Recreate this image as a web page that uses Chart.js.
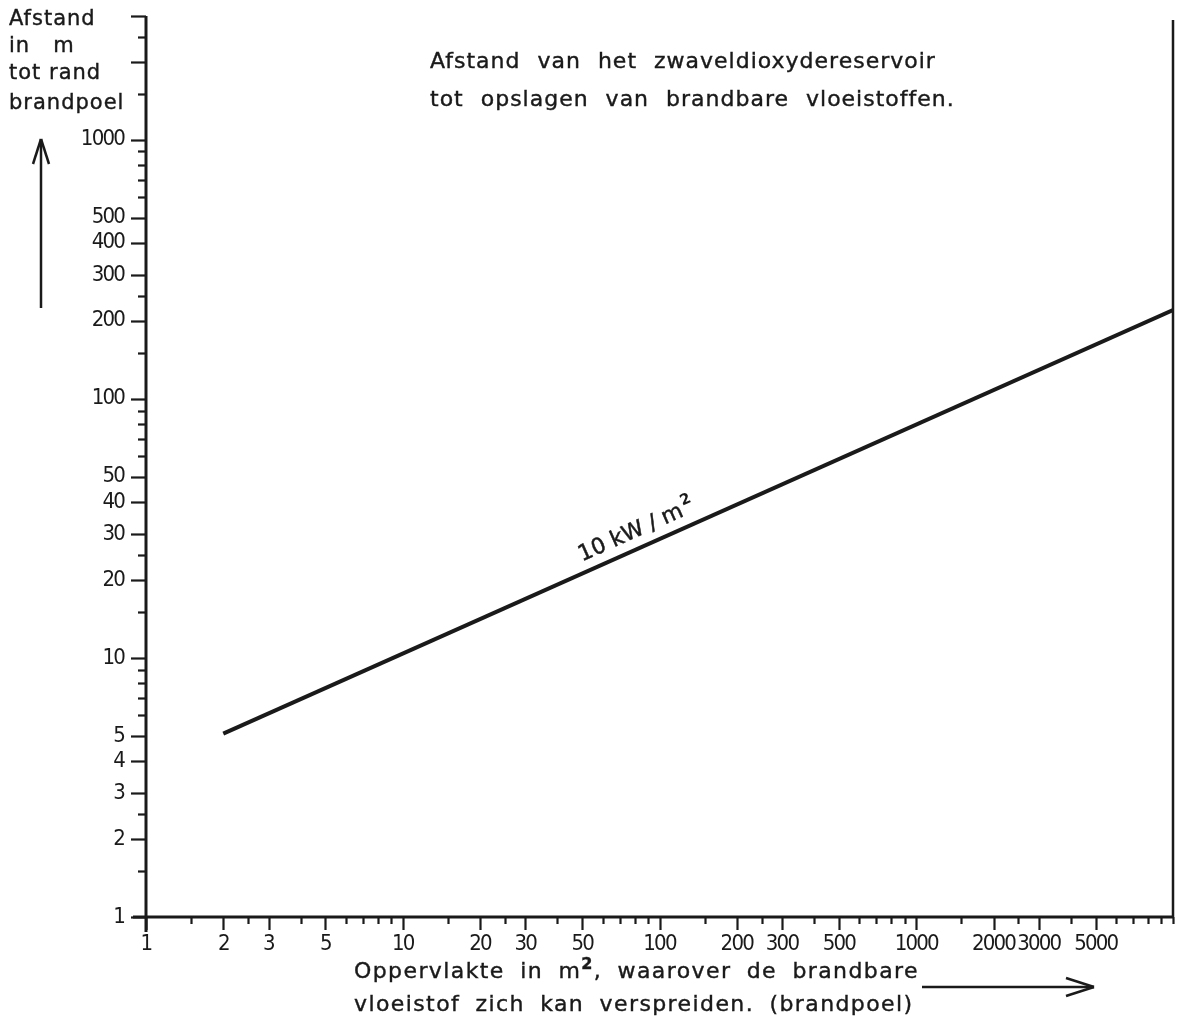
<!DOCTYPE html>
<html>
<head>
<meta charset="utf-8">
<script src="https://cdn.jsdelivr.net/npm/chart.js@4.4.0/dist/chart.umd.min.js"></script>
<style>
  body { margin: 0; background: #fff; }
  #wrap { position: relative; width: 1180px; height: 1021px; }
  canvas { position: absolute; left: 0; top: 0; }
  .t { position: absolute; font-family: "DejaVu Sans", sans-serif; color: #1a1a1a; white-space: pre; font-size: 21px; line-height: 28px; letter-spacing: 1px; -webkit-text-stroke: 0.4px #1a1a1a; }
  .t sup { font-size: 16px; line-height: 0; vertical-align: 9px; font-weight: bold; }
</style>
</head>
<body>
<div id="wrap">
  <canvas id="myChart" width="1180" height="1021"></canvas>

  <div class="t" style="left:9px;top:4px">Afstand</div>
  <div class="t" style="left:9px;top:31px">in   m</div>
  <div class="t" style="left:9px;top:58px">tot rand</div>
  <div class="t" style="left:9px;top:88px">brandpoel</div>

  <div class="t" style="left:430px;top:47px;font-size:22px;word-spacing:9px">Afstand van het zwaveldioxydereservoir</div>
  <div class="t" style="left:430px;top:85px;font-size:22px;word-spacing:9px">tot opslagen van brandbare vloeistoffen.</div>

  <div class="t" style="left:354px;top:957px;font-size:22px;letter-spacing:1.4px;word-spacing:7px">Oppervlakte in m<sup>2</sup>, waarover de brandbare</div>
  <div class="t" style="left:354px;top:990px;font-size:22px;letter-spacing:1.4px;word-spacing:7px">vloeistof zich kan verspreiden. (brandpoel)</div>
</div>

<script>
// afstand tot rand brandpoel (m) tegen oppervlakte (m2), log-log
const surface = [2, 10000];
const distance = [5.1, 220];
const lineLabel = "10 kW / m";

const xTicks = [1, 1.5, 2, 2.5, 3, 4, 5, 6, 7, 8, 9,
  10, 15, 20, 25, 30, 40, 50, 60, 70, 80, 90,
  100, 150, 200, 250, 300, 400, 500, 600, 700, 800, 900,
  1000, 1500, 2000, 2500, 3000, 4000, 5000, 6000, 7000, 8000, 9000, 10000];
const xLabels = [1, 2, 3, 5, 10, 20, 30, 50, 100, 200, 300, 500, 1000, 2000, 3000, 5000];

const yTicks = [1, 1.5, 2, 2.5, 3, 4, 5, 6, 7, 8, 9,
  10, 15, 20, 25, 30, 40, 50, 60, 70, 80, 90,
  100, 150, 200, 250, 300, 400, 500, 600, 700, 800, 900,
  1000, 1500, 2000, 2500, 3000];
const yLabels = [1, 2, 3, 4, 5, 10, 20, 30, 40, 50, 100, 200, 300, 400, 500, 1000];
const yLong = [2000, 3000];

const ink = "#1a1a1a";
const tickFont = { family: "'DejaVu Sans Condensed', 'DejaVu Sans', sans-serif", size: 22 };

function seg(ctx, x1, y1, x2, y2) {
  ctx.beginPath();
  ctx.moveTo(x1, y1);
  ctx.lineTo(x2, y2);
  ctx.stroke();
}

function noPad(s) {
  s.paddingTop = 0; s.paddingBottom = 0; s.paddingLeft = 0; s.paddingRight = 0;
}

const inkPlugin = {
  id: "ink",
  beforeDraw(chart) {
    // smalle cijfers zoals in de tekening
    chart.ctx.letterSpacing = "-1.8px";
  },
  afterDraw(chart) {
    const ctx = chart.ctx;
    const a = chart.chartArea;
    const x = chart.scales.x, y = chart.scales.y;
    ctx.letterSpacing = "0px";
    ctx.save();
    ctx.strokeStyle = ink;
    ctx.fillStyle = ink;
    ctx.lineCap = "butt";

    // assen en rechterrand
    ctx.lineWidth = 3;
    seg(ctx, a.left, a.top, a.left, a.bottom + 15);
    seg(ctx, a.left - 13, a.bottom, a.right, a.bottom);
    ctx.lineWidth = 2.5;
    seg(ctx, a.right, a.top + 4, a.right, a.bottom);

    // streepjes
    ctx.lineWidth = 2.2;
    yTicks.forEach(v => {
      const py = Math.round(y.getPixelForValue(v)) + 0.5;
      const len = (yLabels.includes(v) || yLong.includes(v)) ? 15 : 8;
      seg(ctx, a.left - len, py, a.left, py);
    });
    xTicks.forEach(v => {
      const px = Math.round(x.getPixelForValue(v)) + 0.5;
      const len = xLabels.includes(v) ? 13 : 7;
      seg(ctx, px, a.bottom, px, a.bottom + len);
    });

    // label langs de lijn
    const pts = chart.getDatasetMeta(0).data;
    const p0 = pts[0], p1 = pts[pts.length - 1];
    const ang = Math.atan2(p1.y - p0.y, p1.x - p0.x);
    const sx = x.getPixelForValue(52);
    const t = (sx - p0.x) / (p1.x - p0.x);
    const sy = p0.y + t * (p1.y - p0.y);
    ctx.translate(sx, sy);
    ctx.rotate(ang);
    ctx.font = "22px 'DejaVu Sans', sans-serif";
    ctx.lineWidth = 0.5;
    ctx.textBaseline = "alphabetic";
    ctx.fillText(lineLabel, 0, -11);
    ctx.strokeText(lineLabel, 0, -11);
    const w = ctx.measureText(lineLabel).width;
    ctx.font = "bold 15px 'DejaVu Sans', sans-serif";
    ctx.fillText("2", w + 2, -21);
    ctx.setTransform(1, 0, 0, 1, 0, 0);

    // pijlen
    ctx.lineWidth = 2.5;
    seg(ctx, 41, 308, 41, 139);
    seg(ctx, 33, 164, 41, 139);
    seg(ctx, 49, 164, 41, 139);

    seg(ctx, 922, 987, 1094, 987);
    seg(ctx, 1066, 978, 1094, 987);
    seg(ctx, 1066, 996, 1094, 987);
    ctx.restore();
  }
};

new Chart("myChart", {
  type: "scatter",
  data: {
    datasets: [{
      data: surface.map((s, i) => ({ x: s, y: distance[i] })),
      showLine: true,
      borderColor: ink,
      borderWidth: 4,
      pointRadius: 0,
      fill: false
    }]
  },
  options: {
    responsive: false,
    animation: false,
    layout: { padding: { top: 16, right: 7, left: 0, bottom: 0 } },
    plugins: { legend: { display: false }, tooltip: { enabled: false } },
    scales: {
      x: {
        type: "logarithmic",
        min: 1,
        max: 10000,
        afterBuildTicks: s => { s.ticks = xTicks.map(v => ({ value: v })); },
        afterFit: s => { s.height = 104; noPad(s); },
        grid: { display: false, drawTicks: false },
        border: { display: false },
        ticks: {
          autoSkip: false,
          maxRotation: 0,
          padding: 14,
          color: ink,
          font: tickFont,
          callback: v => xLabels.includes(v) ? String(v) : null
        }
      },
      y: {
        type: "logarithmic",
        min: 1,
        max: 3000,
        afterBuildTicks: s => { s.ticks = yTicks.map(v => ({ value: v })); },
        afterFit: s => { s.width = 146; noPad(s); },
        grid: { display: false, drawTicks: false },
        border: { display: false },
        ticks: {
          autoSkip: false,
          padding: 22,
          color: ink,
          font: tickFont,
          callback: v => yLabels.includes(v) ? String(v) : null
        }
      }
    }
  },
  plugins: [inkPlugin]
});
</script>
</body>
</html>
